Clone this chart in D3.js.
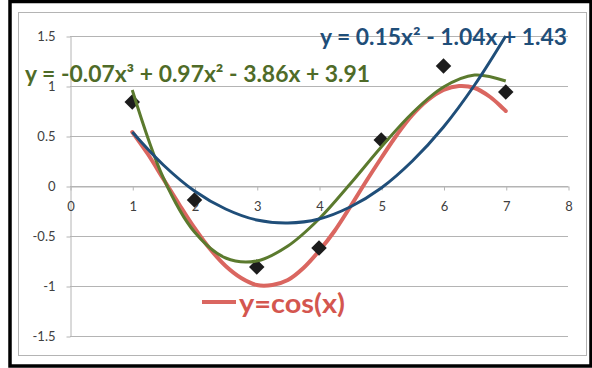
<!DOCTYPE html>
<html>
<head>
<meta charset="utf-8">
<script src="https://cdn.jsdelivr.net/npm/d3@7"></script>
<style>
    body { margin: 0; background: #fff; }
    #main { width: 592px; height: 368px; }
    .tick text { font-family: Lato, sans-serif; font-size: 13px; fill: #404040; }
</style>
</head>
<body>
<div id="main"></div>
<script>
/// data ///
const xTicks = [0, 1, 2, 3, 4, 5, 6, 7, 8];
const yTicks = [-1.5, -1, -0.5, 0, 0.5, 1, 1.5];

// measured points (black diamonds)
const pointX = [1, 2, 3, 4, 5, 6, 7];
const pointY = [0.84, -0.14, -0.81, -0.62, 0.46, 1.2, 0.94];

// y=cos(x) curve (red)
const cosX = [1, 1.25, 1.5, 1.75, 2, 2.25, 2.5, 2.75, 3, 3.25, 3.5, 3.75, 4,
              4.25, 4.5, 4.75, 5, 5.25, 5.5, 5.75, 6, 6.25, 6.5, 6.75, 7];
const cosY = [0.54, 0.32, 0.07, -0.18, -0.42, -0.63, -0.80, -0.92, -0.99, -0.99, -0.94, -0.82, -0.65,
              -0.45, -0.21, 0.04, 0.28, 0.51, 0.71, 0.86, 0.96, 1.00, 0.98, 0.89, 0.75];

// quadratic trendline (blue)
const quadX = [1, 1.5, 2, 2.5, 3, 3.5, 4, 4.5, 5, 5.5, 6, 6.5, 7];
const quadY = [0.54, 0.21, -0.05, -0.23, -0.34, -0.37, -0.33, -0.21, -0.02, 0.25, 0.59, 1.01, 1.50];

// cubic trendline (green)
const cubicX = [1, 1.5, 2, 2.5, 3, 3.5, 4, 4.5, 5, 5.5, 6, 6.5, 7];
const cubicY = [0.96, 0.08, -0.46, -0.72, -0.75, -0.60, -0.33, 0.02, 0.39, 0.73, 0.99, 1.11, 1.05];

const quadLabel = 'y = 0.15x² - 1.04x + 1.43';
const cubicLabel = 'y = -0.07x³ + 0.97x² - 3.86x + 3.91';
const cosLabel = 'y=cos(x)';

/// D3 chart ///
const w = 592;
const h = 368;

let svg = d3.select('#main')
        .append('svg')
        .attr('width', w)
        .attr('height', h);

// outer frame and chart area border
svg.append('rect')
    .attr('x', 10).attr('y', 1.5)
    .attr('width', 581).attr('height', 364.5)
    .attr('fill', 'none')
    .attr('stroke', '#000')
    .attr('stroke-width', 3.5);

svg.append('rect')
    .attr('x', 18.5).attr('y', 12.5)
    .attr('width', 568).attr('height', 343)
    .attr('fill', 'none')
    .attr('stroke', '#b4b4b4')
    .attr('stroke-width', 1);

let xScale = d3.scaleLinear()
        .domain([0, 8])
        .range([70, 568]);

let yScale = d3.scaleLinear()
        .domain([-1.5, 1.5])
        .range([336, 36]);

// horizontal gridlines
svg.append('g')
    .selectAll('line')
    .data(yTicks)
    .enter()
    .append('line')
    .attr('x1', xScale(0))
    .attr('x2', xScale(8))
    .attr('y1', d => Math.round(yScale(d)) + 0.5)
    .attr('y2', d => Math.round(yScale(d)) + 0.5)
    .attr('stroke', '#b4b4b4');

// y axis
let yAxis = d3.axisLeft(yScale)
        .tickValues(yTicks)
        .tickFormat(d => d)
        .tickSize(4)
        .tickSizeOuter(0)
        .tickPadding(11);

svg.append('g')
    .attr('transform', 'translate(' + (xScale(0) + 0.5) + ',0.5)')
    .call(yAxis)
    .call(g => g.selectAll('line, path').attr('stroke', '#b4b4b4'));

// x axis sits on y = 0
let xAxis = d3.axisBottom(xScale)
        .tickValues(xTicks)
        .tickFormat(d3.format('d'))
        .tickSize(4)
        .tickSizeOuter(0)
        .tickPadding(11);

svg.append('g')
    .attr('transform', 'translate(0.5,' + (Math.round(yScale(0)) + 0.5) + ')')
    .call(xAxis)
    .call(g => g.selectAll('line, path').attr('stroke', '#b4b4b4'));

let line = d3.line()
        .x(d => xScale(d[0]))
        .y(d => yScale(d[1]))
        .curve(d3.curveCatmullRom.alpha(0.5));

// cos curve
svg.append('path')
    .datum(d3.zip(cosX, cosY))
    .attr('d', line)
    .attr('fill', 'none')
    .attr('stroke', '#da6660')
    .attr('stroke-width', 4)
    .attr('stroke-linecap', 'round');

// data points
svg.selectAll('.dot')
    .data(d3.zip(pointX, pointY))
    .enter()
    .append('path')
    .attr('class', 'dot')
    .attr('d', d3.symbol(d3.symbolSquare, 120))
    .attr('transform', d => 'translate(' + xScale(d[0]) + ',' + yScale(d[1]) + ') rotate(45)')
    .attr('fill', '#1c1c1c');

// cubic trendline
svg.append('path')
    .datum(d3.zip(cubicX, cubicY))
    .attr('d', line)
    .attr('fill', 'none')
    .attr('stroke', '#5b7a2e')
    .attr('stroke-width', 3);

// quadratic trendline
svg.append('path')
    .datum(d3.zip(quadX, quadY))
    .attr('d', line)
    .attr('fill', 'none')
    .attr('stroke', '#1f4e79')
    .attr('stroke-width', 3);

// trendline equations
svg.append('text')
    .attr('x', 320)
    .attr('y', 45)
    .attr('textLength', 247)
    .attr('lengthAdjust', 'spacingAndGlyphs')
    .style('font-family', 'Lato, sans-serif')
    .style('font-weight', 'bold')
    .style('font-size', '22px')
    .attr('fill', '#1f4e79')
    .text(quadLabel);

svg.append('text')
    .attr('x', 25)
    .attr('y', 82)
    .attr('textLength', 345)
    .attr('lengthAdjust', 'spacingAndGlyphs')
    .style('font-family', 'Lato, sans-serif')
    .style('font-weight', 'bold')
    .style('font-size', '22px')
    .attr('fill', '#4f6b28')
    .text(cubicLabel);

// legend for cos
svg.append('line')
    .attr('x1', 202).attr('x2', 236)
    .attr('y1', 302).attr('y2', 302)
    .attr('stroke', '#da6660')
    .attr('stroke-width', 4);

svg.append('text')
    .attr('x', 239)
    .attr('y', 313)
    .attr('textLength', 106)
    .attr('lengthAdjust', 'spacingAndGlyphs')
    .style('font-family', 'Lato, sans-serif')
    .style('font-weight', 'bold')
    .style('font-size', '26px')
    .attr('fill', '#d4564f')
    .text(cosLabel);
</script>
</body>
</html>
